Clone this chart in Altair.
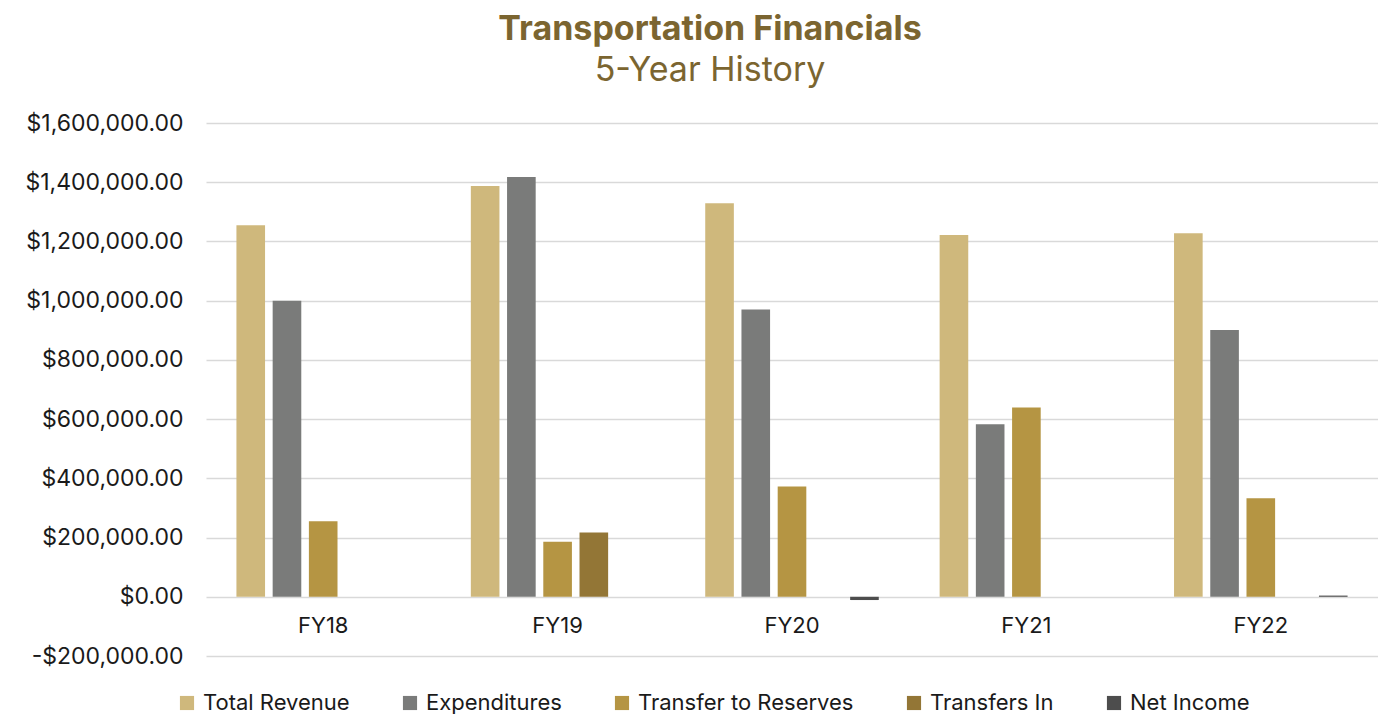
import altair as alt
import pandas as pd

years = ["FY18", "FY19", "FY20", "FY21", "FY22"]
series_order = ["Total Revenue", "Expenditures", "Transfer to Reserves", "Transfers In", "Net Income"]
colors = ["#CFB87C", "#7A7B7A", "#B59543", "#937636", "#4D4D4D"]

total_revenue = [1255000, 1387000, 1329000, 1222000, 1228000]
expenditures = [1000000, 1418000, 970000, 583000, 901000]
transfer_to_reserves = [255000, 186000, 372000, 639000, 333000]
transfers_in = [None, 217000, None, None, None]
net_income = [None, None, -11000, None, 4000]

y_ticks = [-200000, 0, 200000, 400000, 600000, 800000, 1000000, 1200000, 1400000, 1600000]

rows = []
for name, vals in zip(series_order, [total_revenue, expenditures, transfer_to_reserves, transfers_in, net_income]):
    for yr, v in zip(years, vals):
        if v is not None:
            rows.append({"year": yr, "series": name, "value": v})
df = pd.DataFrame(rows)

FONT = "Inter"
LBL = 22

chart = alt.Chart(df).mark_bar().encode(
    x=alt.X("year:N", sort=years,
            scale=alt.Scale(paddingInner=0, paddingOuter=0),
            axis=alt.Axis(title=None, domain=False, ticks=False, labelAngle=0,
                          labelFontSize=LBL, labelFont=FONT, labelColor="#1a1a1a",
                          labelPadding=18, offset=-59, grid=False)),
    xOffset=alt.XOffset("series:N", sort=series_order,
                        scale=alt.Scale(domain=series_order, paddingInner=0.21, paddingOuter=0.84)),
    y=alt.Y("value:Q",
            scale=alt.Scale(domain=[-200000, 1600000], nice=False, zero=False),
            axis=alt.Axis(title=None, values=y_ticks, domain=False, ticks=False,
                          labelExpr="(datum.value < 0 ? '-' : '') + format(abs(datum.value), '$,.2f')",
                          labelFontSize=23, labelFont=FONT, labelColor="#1a1a1a", labelPadding=23,
                          grid=True, gridColor="#D9D9D9", gridWidth=1.5)),
    color=alt.Color("series:N", sort=series_order,
                    scale=alt.Scale(domain=series_order, range=colors),
                    legend=alt.Legend(title=None, orient="none", direction="horizontal",
                                      legendX=-30, legendY=569,
                                      symbolType="square", symbolSize=200, symbolStrokeWidth=0,
                                      labelFontSize=LBL, labelFont=FONT, labelColor="#1a1a1a",
                                      labelLimit=0,
                                      columnPadding=49, symbolOffset=0, labelOffset=5,
                                      columns=5)),
).properties(
    width=1172,
    height=533,
    padding={"left": 198, "top": 115, "right": 0, "bottom": 58},
    autosize=alt.AutoSizeParams(type="none"),
    title=alt.TitleParams(
        text="Transportation Financials",
        subtitle="5-Year History",
        font=FONT, fontSize=34, fontWeight="bold", color="#7B6530",
        subtitleFont=FONT, subtitleFontSize=34, subtitleFontWeight="normal", subtitleColor="#7B6530",
        anchor="middle", dx=-82, offset=24, subtitlePadding=7,
    ),
).configure_view(stroke=None)

chart.save("out.html", embed_options={"renderer": "svg", "actions": False})
